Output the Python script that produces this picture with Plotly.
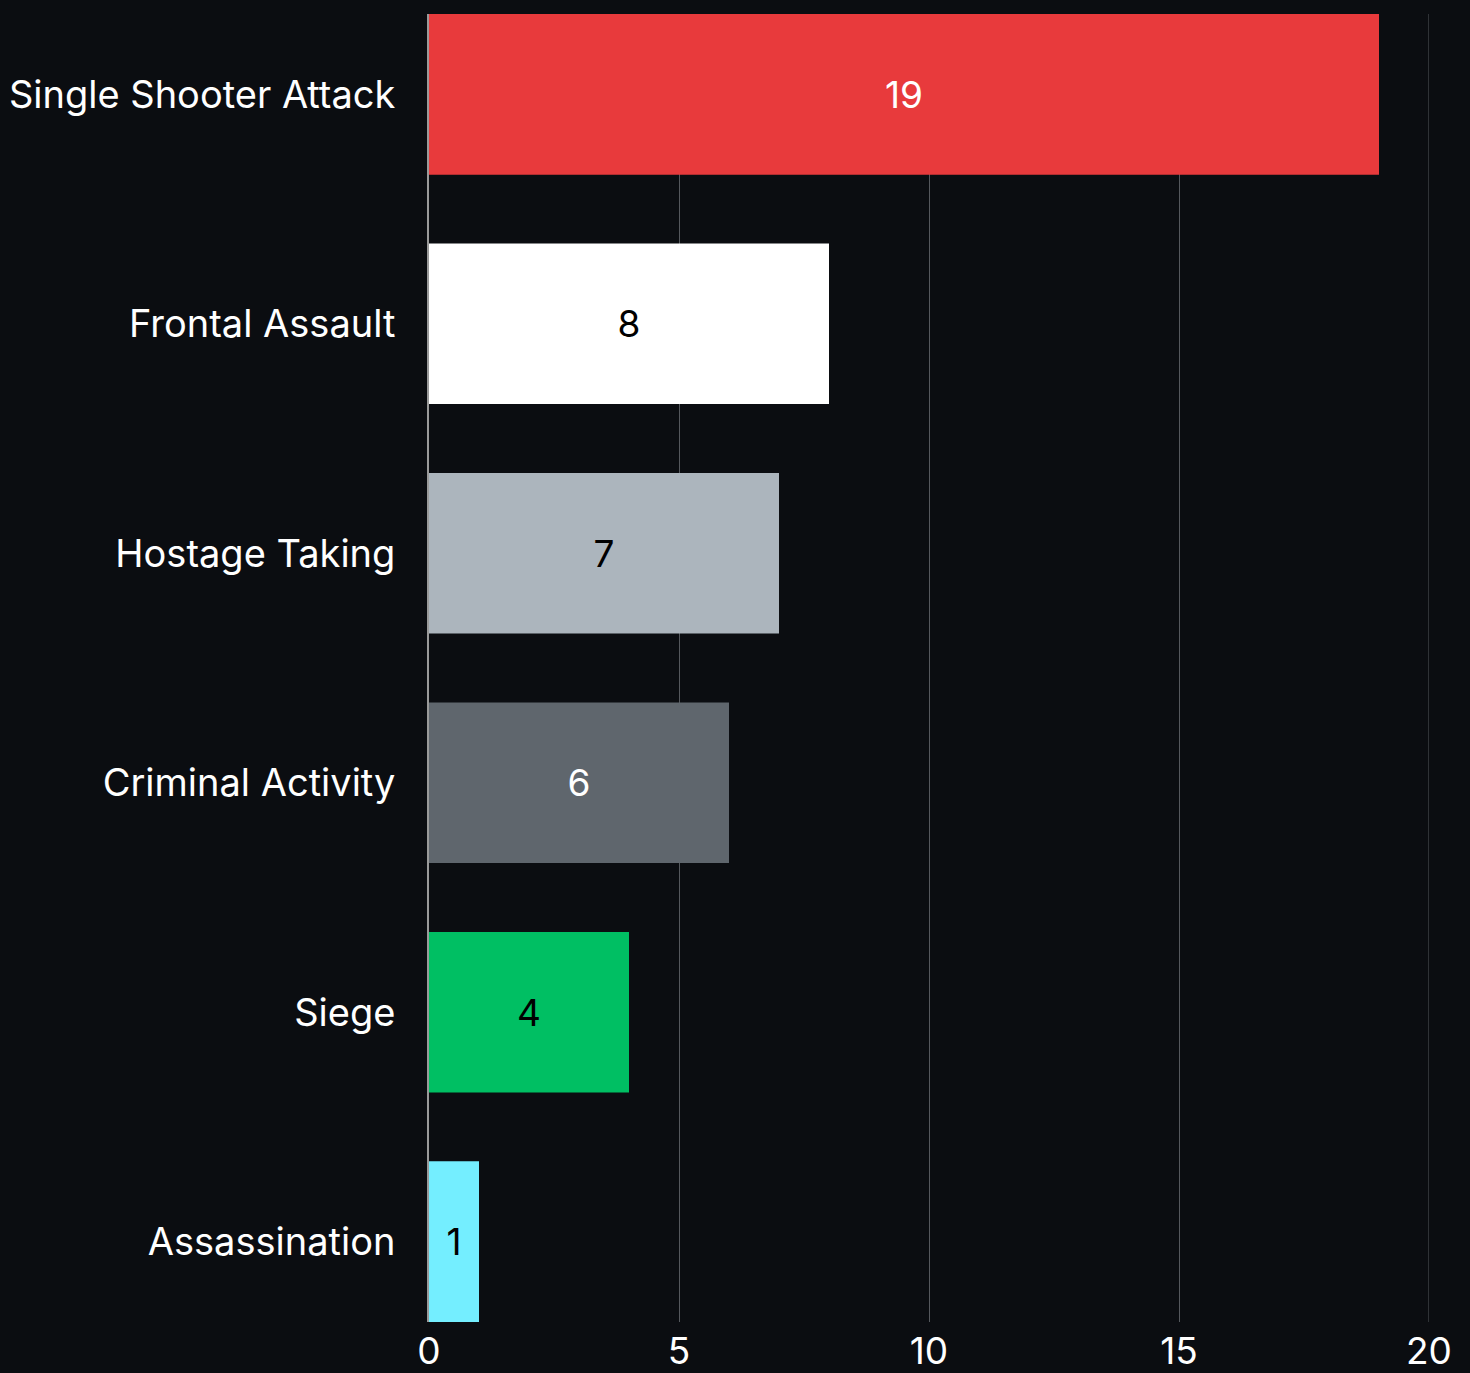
import plotly.graph_objects as go

categories = ["Single Shooter Attack", "Frontal Assault", "Hostage Taking",
              "Criminal Activity", "Siege", "Assassination"]
values = [19, 8, 7, 6, 4, 1]
bar_colors = ["#e83a3c", "#ffffff", "#acb5bd", "#5f666d", "#00bf63", "#74eeff"]
text_colors = ["#ffffff", "#000000", "#000000", "#ffffff", "#000000", "#000000"]
x_ticks = [0, 5, 10, 15, 20]

BG = "#0b0d11"
FONT = "Inter, Liberation Sans, sans-serif"
GRID = "#55585d"

fig = go.Figure(go.Bar(
    x=values, y=categories, orientation="h",
    marker=dict(color=bar_colors, line=dict(width=0)),
    text=[str(v) for v in values], textposition="inside",
    insidetextanchor="middle",
    textfont=dict(family=FONT, size=37, color=text_colors),
    cliponaxis=False,
))

fig.update_layout(
    width=1470, height=1373,
    paper_bgcolor=BG, plot_bgcolor=BG,
    margin=dict(l=429, r=41, t=14, b=51, autoexpand=False),
    bargap=0.3,
    showlegend=False,
    font=dict(family=FONT, size=37, color="#ffffff"),
    uniformtext=dict(minsize=37, mode="show"),
)
fig.update_xaxes(
    range=[0, 20], tickvals=x_ticks, showgrid=True, gridcolor=GRID, gridwidth=1,
    zeroline=False, showline=False, ticks="", automargin=False,
    tickfont=dict(family=FONT, size=37, color="#ffffff"),
    ticklabelstandoff=4,
)
fig.update_yaxes(
    categoryorder="array", categoryarray=categories, autorange=False,
    range=[5.35, -0.35], showgrid=False, zeroline=False, automargin=False,
    showline=True, linecolor="#9a9a9a", linewidth=2,
    ticks="", ticklabelstandoff=24,
    tickfont=dict(family=FONT, size=38, color="#ffffff"),
)
fig.add_vline(x=x_ticks[-1], line=dict(color=GRID, width=1), layer="below")

fig.write_html(
    "out.html",
    config={"displayModeBar": False},
    post_script="document.body.style.margin='0';document.body.style.background='%s';document.body.style.overflow='hidden';" % BG,
)
